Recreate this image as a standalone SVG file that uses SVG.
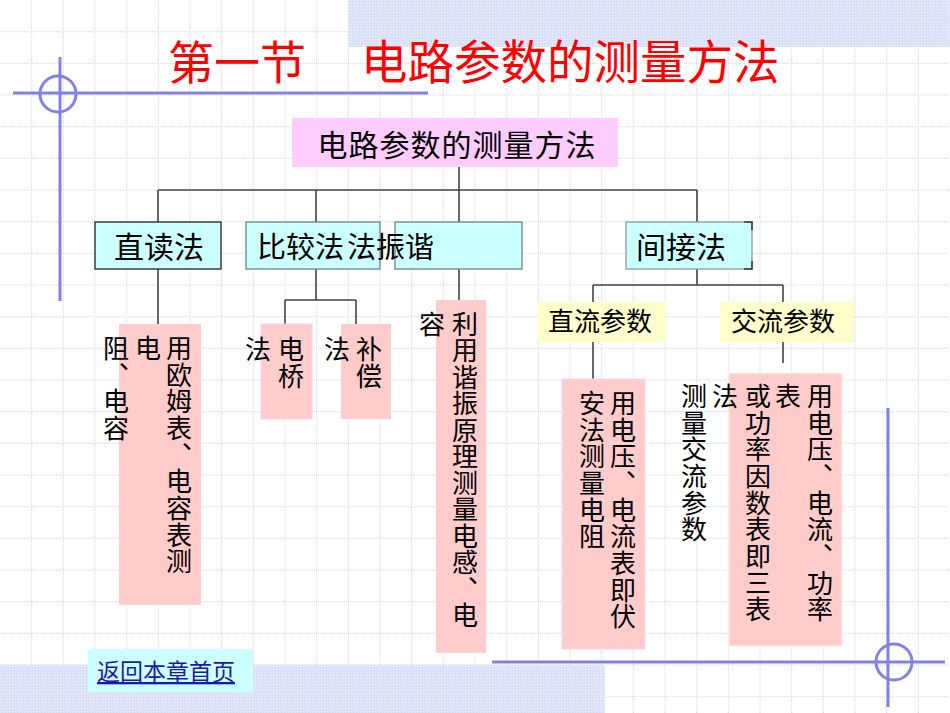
<svg xmlns="http://www.w3.org/2000/svg" width="950" height="713" viewBox="0 0 950 713">
<style>
.grid{stroke:#cfd5e8;stroke-width:1;stroke-dasharray:1 1;fill:none}
.band{fill:url(#tex)}
.deco{stroke:#8282e4;stroke-width:3;fill:none}
.conn{stroke:#444;stroke-width:1.6;fill:none}
.cyan{fill:#ccffff;stroke:#6b8585;stroke-width:1.3}
.yel{fill:#ffffcc;stroke:none}
.pink{fill:#ffcccc;stroke:#ffd0ee;stroke-width:1}
.t{font-family:"Noto Sans CJK SC","Noto Sans CJK JP",sans-serif;fill:#000}
.v{font-family:"Noto Sans CJK SC","Noto Sans CJK JP",sans-serif;font-size:26px;fill:#000;writing-mode:vertical-rl;text-orientation:upright;letter-spacing:0.7px}
</style>
<defs>
<pattern id="tex" width="3" height="3" patternUnits="userSpaceOnUse">
<rect width="3" height="3" fill="#dce3f8"/>
<rect width="1" height="1" fill="#eef2fd"/>
<rect x="2" y="1" width="1" height="1" fill="#d2daf4"/>
</pattern>
</defs>
<rect width="950" height="713" fill="#ffffff"/>
<path class="grid" d="M31.7 0V713M63.3 0V713M95 0V713M126.7 0V713M158.3 0V713M190 0V713M221.7 0V713M253.3 0V713M285 0V713M316.7 0V713M348.3 0V713M380 0V713M411.7 0V713M443.3 0V713M475 0V713M506.7 0V713M538.3 0V713M570 0V713M601.7 0V713M633.3 0V713M665 0V713M696.7 0V713M728.3 0V713M760 0V713M791.7 0V713M823.3 0V713M855 0V713M886.7 0V713M918.3 0V713M0 31.7H950M0 63.3H950M0 95H950M0 126.7H950M0 158.3H950M0 190H950M0 221.7H950M0 253.3H950M0 285H950M0 316.7H950M0 348.3H950M0 380H950M0 411.7H950M0 443.3H950M0 475H950M0 506.7H950M0 538.3H950M0 570H950M0 601.7H950M0 633.3H950M0 665H950M0 696.7H950"/>
<rect class="band" x="348" y="0" width="602" height="47"/>
<rect class="band" x="0" y="665" width="605" height="48"/>
<g id="decoration">
<path class="deco" d="M13 93H428M60 57V301"/>
<circle class="deco" cx="58" cy="94" r="18"/>
<path class="deco" d="M492 662H945M888 408V707"/>
<circle class="deco" cx="894" cy="662" r="18"/>
</g>
<g id="title">
<text class="t" x="168" y="79" font-size="46" style="fill:#ff0000">第一节</text>
<text class="t" x="361" y="79" font-size="46.5" style="fill:#ff0000">电路参数的测量方法</text>
</g>
<g id="connectors">
<path class="conn" d="M459 167V190M158 190H697M158 190V222M316 190V222M459 190V222M697 190V222"/>
<path class="conn" d="M158 269V324M316 269V300M285 300H356M285 300V324M356 300V324M459 269V300"/>
<path class="conn" d="M697 269V285M593 285H783M593 285V302M783 285V302M593 342V379M783 342V363"/>
</g>
<g id="root">
<rect x="292" y="118" width="326" height="49" fill="#ffccff"/>
<text class="t" x="457" y="156" font-size="30" text-anchor="middle" letter-spacing="1">电路参数的测量方法</text>
</g>
<g id="direct">
<rect class="cyan" x="95" y="222" width="126" height="47" style="stroke:#222"/>
<text class="t" x="114" y="258" font-size="30">直读法</text>
</g>
<g id="compare">
<rect class="cyan" x="246" y="222" width="134" height="47"/>
</g>
<g id="resonance">
<rect class="cyan" x="395" y="222" width="127" height="47"/>
<text class="t" x="257" y="258" font-size="29">比较法</text>
<text class="t" x="347" y="258" font-size="29">法振谐</text>
</g>
<g id="indirect">
<rect class="cyan" x="626" y="222" width="126" height="47" style="stroke:#8a9a9a"/>
<path d="M744 222H752V230M744 269H752V261" stroke="#333" stroke-width="1.5" fill="none"/>
<text class="t" x="636" y="258" font-size="30">间接法</text>
</g>
<g id="dc">
<rect class="yel" x="538" y="302" width="128" height="40"/>
<text class="t" x="548" y="331" font-size="26">直流参数</text>
</g>
<g id="ac">
<rect class="yel" x="720" y="302" width="134" height="40"/>
<text class="t" x="731" y="331" font-size="26">交流参数</text>
</g>
<g id="leafA">
<rect class="pink" x="119" y="324" width="82" height="281" style="stroke:none"/>
<text class="v" x="179" y="335">用欧姆表、电容表测</text>
<text class="v" x="148" y="335">电</text>
<text class="v" x="116" y="335">阻、电容</text>
</g>
<g id="leafB">
<rect class="pink" x="261" y="324" width="51" height="95"/>
<text class="v" x="291" y="336">电桥</text>
<text class="v" x="258" y="336">法</text>
</g>
<g id="leafC">
<rect class="pink" x="341" y="324" width="50" height="95" style="stroke:none"/>
<text class="v" x="369" y="336">补偿</text>
<text class="v" x="337" y="336">法</text>
</g>
<g id="leafD">
<rect class="pink" x="436" y="300" width="50" height="353" style="stroke:none"/>
<text class="v" x="465" y="311" style="letter-spacing:0.5px">利用谐振原理测量电感、电</text>
<text class="v" x="432" y="311">容</text>
</g>
<g id="leafE">
<rect class="pink" x="562" y="379" width="83" height="270" style="stroke:#f4d4ee"/>
<text class="v" x="623" y="390">用电压、电流表即伏</text>
<text class="v" x="592" y="390">安法测量电阻</text>
</g>
<g id="leafF">
<rect class="pink" x="729" y="373" width="113" height="273" style="stroke:#fff4d8"/>
<text class="v" x="820" y="383">用电压、电流、功率</text>
<text class="v" x="788" y="383">表</text>
<text class="v" x="758" y="383">或功率因数表即三表</text>
<text class="v" x="725" y="383">法</text>
<text class="v" x="694" y="383">测量交流参数</text>
</g>
<g id="back-link">
<rect x="88" y="649" width="165" height="43" fill="#ccffff"/>
<text class="t" x="97" y="680" font-size="23" text-decoration="underline" style="fill:#1a1aa8">返回本章首页</text>
</g>
</svg>
